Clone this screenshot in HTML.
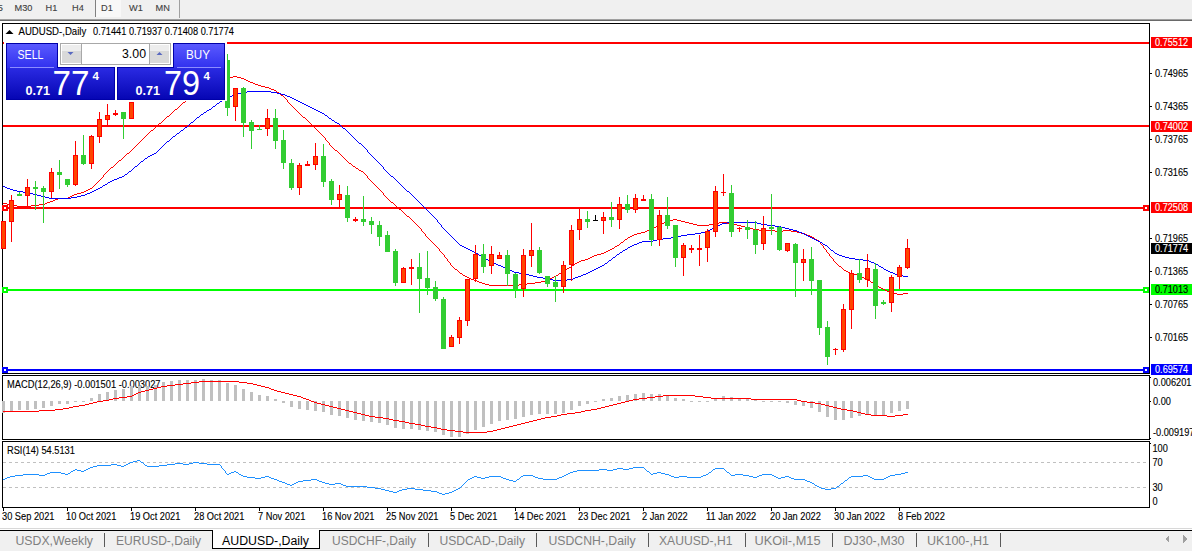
<!DOCTYPE html>
<html><head><meta charset="utf-8"><style>
html,body{margin:0;padding:0;background:#fff;width:1192px;height:551px;overflow:hidden}
svg{display:block}
</style></head><body>
<svg width="1192" height="551" viewBox="0 0 1192 551" shape-rendering="crispEdges">
<defs>
<linearGradient id="gtab" x1="0" y1="0" x2="0" y2="1"><stop offset="0" stop-color="#5a5aff"/><stop offset="1" stop-color="#3030ee"/></linearGradient>
<linearGradient id="gpr" x1="0" y1="0" x2="0" y2="1"><stop offset="0" stop-color="#2a2ae2"/><stop offset="1" stop-color="#0606b4"/></linearGradient>
</defs>
<rect x="0" y="0" width="1192" height="19" fill="#f0f0f0"/>
<rect x="0" y="19" width="1192" height="1" fill="#a0a0a0"/>
<rect x="0" y="20" width="1192" height="1" fill="#696969"/>
<rect x="96" y="0" width="25" height="17" fill="#f8f8f8"/>
<rect x="95" y="0" width="1" height="17" fill="#808080"/>
<rect x="179" y="0" width="1" height="18" fill="#a0a0a0"/>
<text x="-10" y="11" font-family="Liberation Sans, sans-serif" font-size="9.6" fill="#404040" stroke="#404040" stroke-width="0.12" textLength="12.80" lengthAdjust="spacingAndGlyphs">M5</text>
<text x="14.5" y="11" font-family="Liberation Sans, sans-serif" font-size="9.6" fill="#404040" stroke="#404040" stroke-width="0.12" textLength="17.93" lengthAdjust="spacingAndGlyphs">M30</text>
<text x="45.5" y="11" font-family="Liberation Sans, sans-serif" font-size="9.6" fill="#404040" stroke="#404040" stroke-width="0.12" textLength="11.78" lengthAdjust="spacingAndGlyphs">H1</text>
<text x="72" y="11" font-family="Liberation Sans, sans-serif" font-size="9.6" fill="#404040" stroke="#404040" stroke-width="0.12" textLength="11.78" lengthAdjust="spacingAndGlyphs">H4</text>
<text x="101" y="11" font-family="Liberation Sans, sans-serif" font-size="9.6" fill="#404040" stroke="#404040" stroke-width="0.12" textLength="11.78" lengthAdjust="spacingAndGlyphs">D1</text>
<text x="129" y="11" font-family="Liberation Sans, sans-serif" font-size="9.6" fill="#404040" stroke="#404040" stroke-width="0.12" textLength="13.82" lengthAdjust="spacingAndGlyphs">W1</text>
<text x="155.5" y="11" font-family="Liberation Sans, sans-serif" font-size="9.6" fill="#404040" stroke="#404040" stroke-width="0.12" textLength="14.33" lengthAdjust="spacingAndGlyphs">MN</text>
<rect x="2" y="23" width="1148" height="1" fill="#000"/>
<rect x="2" y="23" width="1" height="351" fill="#000"/>
<rect x="1149" y="23" width="1" height="351" fill="#000"/>
<rect x="2" y="373" width="1148" height="1" fill="#000"/>
<rect x="2" y="375" width="1148" height="1" fill="#000"/>
<rect x="2" y="375" width="1" height="65" fill="#000"/>
<rect x="1149" y="375" width="1" height="65" fill="#000"/>
<rect x="2" y="439" width="1148" height="1" fill="#000"/>
<rect x="2" y="441" width="1148" height="1" fill="#000"/>
<rect x="2" y="441" width="1" height="67" fill="#000"/>
<rect x="1149" y="441" width="1" height="67" fill="#000"/>
<rect x="2" y="507" width="1148" height="1" fill="#000"/>
<rect x="3" y="42" width="1146" height="2" fill="#ff0000"/>
<rect x="3" y="125" width="1146" height="2" fill="#ff0000"/>
<rect x="3" y="207" width="1146" height="2" fill="#ff0000"/>
<rect x="3" y="289" width="1146" height="2" fill="#00ff00"/>
<rect x="3" y="369" width="1146" height="2" fill="#0000ff"/>
<rect x="2" y="205" width="6" height="6" fill="#ff0000"/><rect x="4" y="207" width="2" height="2" fill="#fff"/>
<rect x="1143" y="205" width="6" height="6" fill="#ff0000"/><rect x="1145" y="207" width="2" height="2" fill="#fff"/>
<rect x="2" y="287" width="6" height="6" fill="#00ff00"/><rect x="4" y="289" width="2" height="2" fill="#fff"/>
<rect x="1143" y="287" width="6" height="6" fill="#00ff00"/><rect x="1145" y="289" width="2" height="2" fill="#fff"/>
<rect x="2" y="367" width="6" height="6" fill="#0000ff"/><rect x="4" y="369" width="2" height="2" fill="#fff"/>
<rect x="1143" y="367" width="6" height="6" fill="#0000ff"/><rect x="1145" y="369" width="2" height="2" fill="#fff"/>
<path d="M428 238h1v1h-1zM627 238h1v1h-1zM814 238h1v1h-1zM417 225h1v1h-1zM658 225h2v1h-2zM697 225h12v1h-12zM737 225h4v1h-4zM459 272h1v1h-1zM561 272h2v1h-2zM848 272h2v1h-2zM447 259h1v1h-1zM585 259h3v1h-3zM833 259h1v1h-1zM421 230h1v1h-1zM647 230h3v1h-3zM759 230h16v1h-16zM783 230h8v1h-8zM162 121h1v1h-1zM308 121h1v1h-1zM436 246h1v1h-1zM615 246h2v1h-2zM823 246h1v1h-1zM439 249h1v1h-1zM610 249h2v1h-2zM825 249h1v1h-1zM415 223h1v1h-1zM662 223h2v1h-2zM689 223h4v1h-4zM713 223h6v1h-6zM727 223h6v1h-6zM7 204h6v1h-6zM39 204h6v1h-6zM394 204h1v1h-1zM460 273h2v1h-2zM559 273h2v1h-2zM850 273h3v1h-3zM136 145h1v1h-1zM330 145h1v1h-1zM161 122h1v1h-1zM309 122h1v1h-1zM13 205h4v1h-4zM31 205h8v1h-8zM395 205h1v1h-1zM88 189h2v1h-2zM379 189h1v1h-1zM433 243h1v1h-1zM620 243h1v1h-1zM820 243h1v1h-1zM58 198h10v1h-10zM387 198h1v1h-1zM485 284h4v1h-4zM519 284h8v1h-8zM875 284h1v1h-1zM192 95h1v1h-1zM281 95h2v1h-2zM156 126h1v1h-1zM313 126h1v1h-1zM17 206h14v1h-14zM396 206h1v1h-1zM479 282h3v1h-3zM535 282h6v1h-6zM871 282h2v1h-2zM423 232h1v1h-1zM641 232h4v1h-4zM797 232h4v1h-4zM70 196h2v1h-2zM385 196h1v1h-1zM489 285h30v1h-30zM876 285h2v1h-2zM154 128h1v1h-1zM315 128h1v1h-1zM72 195h2v1h-2zM384 195h1v1h-1zM469 278h2v1h-2zM550 278h2v1h-2zM864 278h2v1h-2zM53 200h2v1h-2zM389 200h1v1h-1zM482 283h3v1h-3zM527 283h8v1h-8zM873 283h2v1h-2zM193 94h2v1h-2zM280 94h1v1h-1zM430 240h1v1h-1zM624 240h1v1h-1zM817 240h2v1h-2zM153 129h1v1h-1zM316 129h1v1h-1zM213 81h2v1h-2zM248 81h2v1h-2zM416 224h1v1h-1zM660 224h2v1h-2zM693 224h4v1h-4zM709 224h4v1h-4zM733 224h4v1h-4zM140 141h1v1h-1zM327 141h1v1h-1zM887 291h3v1h-3zM197 91h2v1h-2zM276 91h1v1h-1zM77 193h4v1h-4zM383 193h1v1h-1zM422 231h1v1h-1zM645 231h2v1h-2zM775 231h8v1h-8zM791 231h6v1h-6zM209 83h2v1h-2zM253 83h2v1h-2zM204 86h2v1h-2zM261 86h4v1h-4zM412 220h1v1h-1zM669 220h4v1h-4zM677 220h4v1h-4zM424 233h1v1h-1zM637 233h4v1h-4zM801 233h4v1h-4zM890 292h3v1h-3zM419 227h1v1h-1zM654 227h2v1h-2zM745 227h4v1h-4zM124 156h1v1h-1zM342 156h1v1h-1zM159 123h2v1h-2zM310 123h1v1h-1zM174 110h1v1h-1zM296 110h1v1h-1zM145 136h1v1h-1zM323 136h1v1h-1zM438 248h1v1h-1zM612 248h2v1h-2zM824 248h1v1h-1zM444 255h1v1h-1zM594 255h3v1h-3zM829 255h1v1h-1zM893 293h4v1h-4zM903 293h5v1h-5zM883 289h2v1h-2zM425 234h1v1h-1zM634 234h3v1h-3zM805 234h2v1h-2zM90 188h2v1h-2zM378 188h1v1h-1zM93 186h1v1h-1zM376 186h1v1h-1zM127 153h2v1h-2zM339 153h1v1h-1zM163 120h1v1h-1zM307 120h1v1h-1zM173 111h1v1h-1zM297 111h1v1h-1zM138 143h1v1h-1zM329 143h1v1h-1zM117 162h1v1h-1zM348 162h1v1h-1zM451 265h1v1h-1zM572 265h2v1h-2zM838 265h1v1h-1zM84 191h2v1h-2zM381 191h1v1h-1zM223 78h6v1h-6zM241 78h3v1h-3zM429 239h1v1h-1zM625 239h2v1h-2zM815 239h2v1h-2zM3 203h4v1h-4zM45 203h2v1h-2zM393 203h1v1h-1zM407 216h2v1h-2zM449 262h1v1h-1zM577 262h2v1h-2zM835 262h1v1h-1zM458 271h1v1h-1zM563 271h1v1h-1zM846 271h2v1h-2zM457 270h1v1h-1zM564 270h2v1h-2zM844 270h2v1h-2zM448 261h1v1h-1zM579 261h2v1h-2zM834 261h1v1h-1zM439 250h1v1h-1zM608 250h2v1h-2zM826 250h1v1h-1zM442 253h1v1h-1zM601 253h3v1h-3zM828 253h1v1h-1zM99 180h1v1h-1zM370 180h1v1h-1zM166 117h1v1h-1zM303 117h2v1h-2zM199 90h1v1h-1zM274 90h2v1h-2zM879 287h2v1h-2zM68 197h2v1h-2zM386 197h1v1h-1zM115 164h1v1h-1zM351 164h1v1h-1zM414 222h1v1h-1zM664 222h2v1h-2zM685 222h4v1h-4zM719 222h8v1h-8zM474 280h3v1h-3zM545 280h3v1h-3zM868 280h2v1h-2zM455 269h2v1h-2zM566 269h1v1h-1zM843 269h1v1h-1zM444 256h1v1h-1zM592 256h2v1h-2zM830 256h1v1h-1zM233 76h4v1h-4zM131 150h1v1h-1zM335 150h2v1h-2zM147 134h1v1h-1zM321 134h1v1h-1zM418 226h1v1h-1zM656 226h2v1h-2zM741 226h4v1h-4zM108 170h1v1h-1zM359 170h2v1h-2zM201 88h2v1h-2zM269 88h2v1h-2zM130 151h1v1h-1zM337 151h1v1h-1zM92 187h1v1h-1zM377 187h1v1h-1zM183 102h2v1h-2zM288 102h1v1h-1zM437 247h1v1h-1zM614 247h1v1h-1zM823 247h1v1h-1zM463 275h2v1h-2zM556 275h2v1h-2zM857 275h3v1h-3zM196 92h1v1h-1zM277 92h2v1h-2zM425 235h1v1h-1zM632 235h2v1h-2zM807 235h3v1h-3zM206 85h1v1h-1zM258 85h3v1h-3zM421 229h1v1h-1zM650 229h2v1h-2zM753 229h6v1h-6zM146 135h1v1h-1zM322 135h1v1h-1zM107 171h1v1h-1zM361 171h2v1h-2zM443 254h1v1h-1zM597 254h4v1h-4zM829 254h1v1h-1zM106 172h1v1h-1zM363 172h1v1h-1zM218 79h5v1h-5zM244 79h2v1h-2zM135 146h1v1h-1zM331 146h1v1h-1zM447 260h1v1h-1zM581 260h4v1h-4zM833 260h1v1h-1zM122 158h1v1h-1zM344 158h1v1h-1zM453 267h1v1h-1zM569 267h2v1h-2zM841 267h1v1h-1zM427 237h1v1h-1zM628 237h2v1h-2zM812 237h2v1h-2zM435 245h1v1h-1zM617 245h2v1h-2zM822 245h1v1h-1zM413 221h1v1h-1zM666 221h3v1h-3zM681 221h4v1h-4zM229 77h4v1h-4zM237 77h4v1h-4zM432 242h1v1h-1zM621 242h2v1h-2zM820 242h1v1h-1zM402 211h1v1h-1zM446 258h1v1h-1zM588 258h2v1h-2zM832 258h1v1h-1zM111 167h2v1h-2zM355 167h1v1h-1zM403 212h1v1h-1zM50 201h3v1h-3zM390 201h1v1h-1zM454 268h1v1h-1zM567 268h2v1h-2zM842 268h1v1h-1zM215 80h3v1h-3zM246 80h2v1h-2zM211 82h2v1h-2zM250 82h3v1h-3zM897 294h6v1h-6zM441 252h1v1h-1zM604 252h2v1h-2zM827 252h1v1h-1zM477 281h2v1h-2zM541 281h4v1h-4zM870 281h1v1h-1zM185 101h1v1h-1zM287 101h1v1h-1zM74 194h3v1h-3zM383 194h1v1h-1zM123 157h1v1h-1zM343 157h1v1h-1zM467 277h2v1h-2zM552 277h2v1h-2zM862 277h2v1h-2zM465 276h2v1h-2zM554 276h2v1h-2zM860 276h2v1h-2zM55 199h3v1h-3zM388 199h1v1h-1zM100 179h1v1h-1zM369 179h1v1h-1zM134 147h1v1h-1zM332 147h1v1h-1zM178 107h1v1h-1zM293 107h1v1h-1zM471 279h3v1h-3zM548 279h2v1h-2zM866 279h2v1h-2zM86 190h2v1h-2zM380 190h1v1h-1zM165 118h1v1h-1zM305 118h1v1h-1zM180 105h1v1h-1zM291 105h1v1h-1zM426 236h1v1h-1zM630 236h2v1h-2zM810 236h2v1h-2zM119 160h2v1h-2zM346 160h1v1h-1zM179 106h1v1h-1zM292 106h1v1h-1zM158 124h1v1h-1zM311 124h1v1h-1zM47 202h3v1h-3zM391 202h2v1h-2zM113 166h1v1h-1zM353 166h2v1h-2zM142 139h1v1h-1zM325 139h1v1h-1zM103 175h1v1h-1zM366 175h1v1h-1zM172 112h1v1h-1zM298 112h1v1h-1zM398 208h1v1h-1zM207 84h2v1h-2zM255 84h3v1h-3zM450 264h1v1h-1zM574 264h1v1h-1zM837 264h1v1h-1zM171 113h1v1h-1zM299 113h1v1h-1zM420 228h1v1h-1zM652 228h2v1h-2zM749 228h4v1h-4zM399 209h2v1h-2zM431 241h1v1h-1zM623 241h1v1h-1zM819 241h1v1h-1zM410 218h1v1h-1zM189 97h2v1h-2zM284 97h1v1h-1zM452 266h1v1h-1zM571 266h1v1h-1zM839 266h2v1h-2zM81 192h3v1h-3zM382 192h1v1h-1zM96 183h1v1h-1zM373 183h1v1h-1zM151 130h2v1h-2zM317 130h1v1h-1zM169 115h1v1h-1zM301 115h1v1h-1zM440 251h1v1h-1zM606 251h2v1h-2zM826 251h1v1h-1zM95 184h1v1h-1zM374 184h1v1h-1zM450 263h1v1h-1zM575 263h2v1h-2zM836 263h1v1h-1zM116 163h1v1h-1zM349 163h2v1h-2zM110 168h1v1h-1zM356 168h2v1h-2zM144 137h1v1h-1zM324 137h1v1h-1zM105 173h1v1h-1zM364 173h1v1h-1zM397 207h1v1h-1zM191 96h1v1h-1zM283 96h1v1h-1zM200 89h1v1h-1zM271 89h3v1h-3zM885 290h2v1h-2zM203 87h1v1h-1zM265 87h4v1h-4zM114 165h1v1h-1zM352 165h1v1h-1zM149 132h1v1h-1zM319 132h1v1h-1zM104 174h1v1h-1zM365 174h1v1h-1zM409 217h1v1h-1zM445 257h1v1h-1zM590 257h2v1h-2zM831 257h1v1h-1zM98 181h1v1h-1zM371 181h1v1h-1zM878 286h1v1h-1zM175 109h2v1h-2zM295 109h1v1h-1zM97 182h1v1h-1zM372 182h1v1h-1zM881 288h2v1h-2zM411 219h1v1h-1zM673 219h4v1h-4zM102 177h1v1h-1zM367 177h1v1h-1zM137 144h1v1h-1zM329 144h1v1h-1zM129 152h1v1h-1zM338 152h1v1h-1zM195 93h1v1h-1zM279 93h1v1h-1zM121 159h1v1h-1zM345 159h1v1h-1zM462 274h1v1h-1zM558 274h1v1h-1zM853 274h4v1h-4zM187 99h1v1h-1zM286 99h1v1h-1zM404 213h1v1h-1zM405 214h1v1h-1zM177 108h1v1h-1zM294 108h1v1h-1zM132 149h1v1h-1zM334 149h1v1h-1zM133 148h1v1h-1zM333 148h1v1h-1zM157 125h1v1h-1zM312 125h1v1h-1zM164 119h1v1h-1zM306 119h1v1h-1zM125 155h1v1h-1zM341 155h1v1h-1zM167 116h2v1h-2zM302 116h1v1h-1zM141 140h1v1h-1zM326 140h1v1h-1zM434 244h1v1h-1zM619 244h1v1h-1zM821 244h1v1h-1zM139 142h1v1h-1zM328 142h1v1h-1zM188 98h1v1h-1zM285 98h1v1h-1zM170 114h1v1h-1zM300 114h1v1h-1zM148 133h1v1h-1zM320 133h1v1h-1zM126 154h1v1h-1zM340 154h1v1h-1zM109 169h1v1h-1zM358 169h1v1h-1zM182 103h1v1h-1zM289 103h1v1h-1zM150 131h1v1h-1zM318 131h1v1h-1zM155 127h1v1h-1zM314 127h1v1h-1zM143 138h1v1h-1zM325 138h1v1h-1zM186 100h1v1h-1zM287 100h1v1h-1zM406 215h1v1h-1zM118 161h1v1h-1zM347 161h1v1h-1zM94 185h1v1h-1zM375 185h1v1h-1zM103 176h1v1h-1zM367 176h1v1h-1zM101 178h1v1h-1zM368 178h1v1h-1zM181 104h1v1h-1zM290 104h1v1h-1zM401 210h1v1h-1z" fill="#ff0000"/>
<path d="M124 175h1v1h-1zM390 175h1v1h-1zM438 222h1v1h-1zM727 222h30v1h-30zM519 273h6v1h-6zM586 273h2v1h-2zM893 273h2v1h-2zM484 258h2v1h-2zM612 258h1v1h-1zM849 258h6v1h-6zM453 238h1v1h-1zM663 238h8v1h-8zM812 238h2v1h-2zM199 116h1v1h-1zM327 116h1v1h-1zM139 163h1v1h-1zM379 163h1v1h-1zM445 230h1v1h-1zM708 230h2v1h-2zM793 230h4v1h-4zM10 189h3v1h-3zM96 189h2v1h-2zM405 189h1v1h-1zM506 268h2v1h-2zM596 268h2v1h-2zM883 268h1v1h-1zM439 223h1v1h-1zM722 223h5v1h-5zM757 223h4v1h-4zM241 92h6v1h-6zM271 92h6v1h-6zM128 172h1v1h-1zM387 172h1v1h-1zM470 250h2v1h-2zM623 250h2v1h-2zM831 250h2v1h-2zM441 226h1v1h-1zM716 226h2v1h-2zM775 226h6v1h-6zM479 255h2v1h-2zM616 255h1v1h-1zM839 255h3v1h-3zM197 117h2v1h-2zM328 117h1v1h-1zM119 177h3v1h-3zM393 177h1v1h-1zM553 280h14v1h-14zM150 155h2v1h-2zM371 155h1v1h-1zM533 276h4v1h-4zM578 276h3v1h-3zM903 276h5v1h-5zM447 232h1v1h-1zM701 232h4v1h-4zM799 232h3v1h-3zM492 262h2v1h-2zM607 262h1v1h-1zM871 262h3v1h-3zM132 169h1v1h-1zM384 169h1v1h-1zM474 252h2v1h-2zM620 252h2v1h-2zM834 252h1v1h-1zM49 198h22v1h-22zM415 198h1v1h-1zM172 137h1v1h-1zM353 137h1v1h-1zM457 242h1v1h-1zM639 242h3v1h-3zM820 242h2v1h-2zM247 91h24v1h-24zM185 127h2v1h-2zM342 127h1v1h-1zM456 241h1v1h-1zM642 241h11v1h-11zM818 241h2v1h-2zM224 99h2v1h-2zM294 99h2v1h-2zM5 187h2v1h-2zM100 187h2v1h-2zM403 187h1v1h-1zM454 239h1v1h-1zM657 239h6v1h-6zM814 239h2v1h-2zM167 141h2v1h-2zM357 141h1v1h-1zM514 272h5v1h-5zM588 272h2v1h-2zM890 272h3v1h-3zM529 275h4v1h-4zM581 275h2v1h-2zM898 275h5v1h-5zM430 213h1v1h-1zM232 95h2v1h-2zM285 95h2v1h-2zM105 184h2v1h-2zM400 184h1v1h-1zM441 225h1v1h-1zM718 225h2v1h-2zM767 225h8v1h-8zM496 264h2v1h-2zM604 264h1v1h-1zM876 264h2v1h-2zM17 191h6v1h-6zM92 191h2v1h-2zM407 191h2v1h-2zM171 138h1v1h-1zM354 138h1v1h-1zM455 240h1v1h-1zM653 240h4v1h-4zM816 240h2v1h-2zM237 93h4v1h-4zM277 93h4v1h-4zM451 236h1v1h-1zM677 236h4v1h-4zM808 236h2v1h-2zM476 253h2v1h-2zM619 253h1v1h-1zM835 253h2v1h-2zM228 97h2v1h-2zM290 97h2v1h-2zM486 259h2v1h-2zM611 259h1v1h-1zM855 259h8v1h-8zM464 247h2v1h-2zM628 247h2v1h-2zM828 247h1v1h-1zM29 193h4v1h-4zM87 193h3v1h-3zM410 193h1v1h-1zM200 115h1v1h-1zM325 115h2v1h-2zM452 237h1v1h-1zM671 237h6v1h-6zM810 237h2v1h-2zM448 233h1v1h-1zM695 233h6v1h-6zM802 233h2v1h-2zM23 192h6v1h-6zM90 192h2v1h-2zM409 192h1v1h-1zM7 188h3v1h-3zM98 188h2v1h-2zM404 188h1v1h-1zM537 277h6v1h-6zM575 277h3v1h-3zM154 153h2v1h-2zM369 153h1v1h-1zM143 160h1v1h-1zM376 160h1v1h-1zM117 178h2v1h-2zM394 178h1v1h-1zM466 248h2v1h-2zM627 248h1v1h-1zM829 248h1v1h-1zM510 270h2v1h-2zM592 270h2v1h-2zM886 270h2v1h-2zM459 244h1v1h-1zM634 244h3v1h-3zM823 244h2v1h-2zM440 224h1v1h-1zM720 224h2v1h-2zM761 224h6v1h-6zM449 234h1v1h-1zM687 234h8v1h-8zM804 234h2v1h-2zM114 179h3v1h-3zM395 179h1v1h-1zM147 157h1v1h-1zM373 157h1v1h-1zM206 111h1v1h-1zM318 111h2v1h-2zM135 166h2v1h-2zM382 166h1v1h-1zM460 245h2v1h-2zM632 245h2v1h-2zM825 245h2v1h-2zM450 235h1v1h-1zM681 235h6v1h-6zM806 235h2v1h-2zM187 126h1v1h-1zM341 126h1v1h-1zM446 231h1v1h-1zM705 231h3v1h-3zM797 231h2v1h-2zM13 190h4v1h-4zM94 190h2v1h-2zM406 190h1v1h-1zM37 195h4v1h-4zM81 195h4v1h-4zM412 195h1v1h-1zM220 101h2v1h-2zM298 101h2v1h-2zM462 246h2v1h-2zM630 246h2v1h-2zM827 246h1v1h-1zM234 94h3v1h-3zM281 94h4v1h-4zM203 113h1v1h-1zM322 113h2v1h-2zM481 256h2v1h-2zM615 256h1v1h-1zM842 256h3v1h-3zM209 109h2v1h-2zM314 109h2v1h-2zM215 105h1v1h-1zM306 105h2v1h-2zM165 143h1v1h-1zM359 143h2v1h-2zM498 265h3v1h-3zM602 265h2v1h-2zM878 265h1v1h-1zM204 112h2v1h-2zM320 112h2v1h-2zM190 123h1v1h-1zM337 123h2v1h-2zM207 110h2v1h-2zM316 110h2v1h-2zM437 220h1v1h-1zM213 106h2v1h-2zM308 106h2v1h-2zM219 102h1v1h-1zM300 102h2v1h-2zM419 202h1v1h-1zM483 257h1v1h-1zM613 257h2v1h-2zM845 257h4v1h-4zM33 194h4v1h-4zM85 194h2v1h-2zM411 194h1v1h-1zM162 146h1v1h-1zM363 146h1v1h-1zM212 107h1v1h-1zM310 107h2v1h-2zM217 103h2v1h-2zM302 103h2v1h-2zM41 196h4v1h-4zM77 196h4v1h-4zM413 196h1v1h-1zM216 104h1v1h-1zM304 104h2v1h-2zM222 100h2v1h-2zM296 100h2v1h-2zM157 151h1v1h-1zM367 151h1v1h-1zM230 96h2v1h-2zM287 96h3v1h-3zM468 249h2v1h-2zM625 249h2v1h-2zM830 249h1v1h-1zM129 171h2v1h-2zM386 171h1v1h-1zM478 254h1v1h-1zM617 254h2v1h-2zM837 254h2v1h-2zM152 154h2v1h-2zM370 154h1v1h-1zM443 228h1v1h-1zM712 228h2v1h-2zM785 228h4v1h-4zM442 227h1v1h-1zM714 227h2v1h-2zM781 227h4v1h-4zM472 251h2v1h-2zM622 251h1v1h-1zM833 251h1v1h-1zM226 98h2v1h-2zM292 98h2v1h-2zM543 278h6v1h-6zM573 278h2v1h-2zM525 274h4v1h-4zM583 274h3v1h-3zM895 274h3v1h-3zM145 158h2v1h-2zM374 158h1v1h-1zM503 267h3v1h-3zM598 267h2v1h-2zM881 267h2v1h-2zM201 114h2v1h-2zM324 114h1v1h-1zM122 176h2v1h-2zM391 176h2v1h-2zM444 229h1v1h-1zM710 229h2v1h-2zM789 229h4v1h-4zM103 185h2v1h-2zM401 185h1v1h-1zM184 128h1v1h-1zM343 128h2v1h-2zM179 132h1v1h-1zM348 132h1v1h-1zM137 165h1v1h-1zM381 165h1v1h-1zM173 136h2v1h-2zM352 136h1v1h-1zM177 133h2v1h-2zM349 133h1v1h-1zM512 271h2v1h-2zM590 271h2v1h-2zM888 271h2v1h-2zM127 173h1v1h-1zM388 173h1v1h-1zM549 279h4v1h-4zM567 279h6v1h-6zM488 260h2v1h-2zM609 260h2v1h-2zM863 260h6v1h-6zM508 269h2v1h-2zM594 269h2v1h-2zM884 269h2v1h-2zM148 156h2v1h-2zM372 156h1v1h-1zM418 201h1v1h-1zM125 174h2v1h-2zM389 174h1v1h-1zM194 120h1v1h-1zM332 120h2v1h-2zM501 266h2v1h-2zM600 266h2v1h-2zM879 266h2v1h-2zM433 216h1v1h-1zM134 167h1v1h-1zM383 167h1v1h-1zM188 125h1v1h-1zM340 125h1v1h-1zM425 208h1v1h-1zM211 108h1v1h-1zM312 108h2v1h-2zM159 149h1v1h-1zM366 149h1v1h-1zM191 122h2v1h-2zM335 122h2v1h-2zM196 118h1v1h-1zM329 118h2v1h-2zM458 243h1v1h-1zM637 243h2v1h-2zM822 243h1v1h-1zM45 197h4v1h-4zM71 197h6v1h-6zM414 197h1v1h-1zM181 130h2v1h-2zM346 130h1v1h-1zM141 161h2v1h-2zM377 161h1v1h-1zM432 215h1v1h-1zM170 139h1v1h-1zM355 139h1v1h-1zM164 144h1v1h-1zM361 144h1v1h-1zM180 131h1v1h-1zM347 131h1v1h-1zM138 164h1v1h-1zM380 164h1v1h-1zM161 147h1v1h-1zM364 147h1v1h-1zM3 186h2v1h-2zM102 186h1v1h-1zM402 186h1v1h-1zM494 263h2v1h-2zM605 263h2v1h-2zM874 263h2v1h-2zM175 135h1v1h-1zM351 135h1v1h-1zM110 181h2v1h-2zM397 181h1v1h-1zM133 168h1v1h-1zM383 168h1v1h-1zM156 152h1v1h-1zM368 152h1v1h-1zM183 129h1v1h-1zM345 129h1v1h-1zM420 203h1v1h-1zM427 210h1v1h-1zM176 134h1v1h-1zM350 134h1v1h-1zM189 124h1v1h-1zM339 124h1v1h-1zM140 162h1v1h-1zM378 162h1v1h-1zM144 159h1v1h-1zM375 159h1v1h-1zM490 261h2v1h-2zM608 261h1v1h-1zM869 261h2v1h-2zM426 209h1v1h-1zM166 142h1v1h-1zM358 142h1v1h-1zM112 180h2v1h-2zM396 180h1v1h-1zM158 150h1v1h-1zM367 150h1v1h-1zM169 140h1v1h-1zM356 140h1v1h-1zM108 182h2v1h-2zM398 182h1v1h-1zM163 145h1v1h-1zM362 145h1v1h-1zM193 121h1v1h-1zM334 121h1v1h-1zM131 170h1v1h-1zM385 170h1v1h-1zM434 217h1v1h-1zM437 221h1v1h-1zM421 204h1v1h-1zM422 205h1v1h-1zM428 211h1v1h-1zM429 212h1v1h-1zM435 218h1v1h-1zM436 219h1v1h-1zM107 183h1v1h-1zM399 183h1v1h-1zM160 148h1v1h-1zM365 148h1v1h-1zM195 119h1v1h-1zM331 119h1v1h-1zM416 199h1v1h-1zM417 200h1v1h-1zM423 206h1v1h-1zM424 207h1v1h-1zM431 214h1v1h-1z" fill="#0000ff"/>
<rect x="3" y="221" width="1" height="28" fill="#ff0000"/>
<rect x="1" y="221" width="5" height="28" fill="#ff0000"/>
<rect x="2" y="222" width="3" height="26" fill="#ff4500"/>
<rect x="11" y="195" width="1" height="47" fill="#ff0000"/>
<rect x="9" y="200" width="5" height="22" fill="#ff0000"/>
<rect x="10" y="201" width="3" height="20" fill="#ff4500"/>
<rect x="19" y="192" width="1" height="4" fill="#32cd32"/>
<rect x="17" y="194" width="5" height="2" fill="#32cd32"/>
<rect x="27" y="179" width="1" height="28" fill="#ff0000"/>
<rect x="25" y="187" width="5" height="9" fill="#ff0000"/>
<rect x="26" y="188" width="3" height="7" fill="#ff4500"/>
<rect x="35" y="181" width="1" height="29" fill="#32cd32"/>
<rect x="33" y="187" width="5" height="2" fill="#32cd32"/>
<rect x="43" y="186" width="1" height="37" fill="#32cd32"/>
<rect x="41" y="188" width="5" height="4" fill="#32cd32"/>
<rect x="51" y="168" width="1" height="30" fill="#ff0000"/>
<rect x="49" y="172" width="5" height="20" fill="#ff0000"/>
<rect x="50" y="173" width="3" height="18" fill="#ff4500"/>
<rect x="59" y="160" width="1" height="29" fill="#32cd32"/>
<rect x="57" y="172" width="5" height="3" fill="#32cd32"/>
<rect x="67" y="179" width="1" height="8" fill="#32cd32"/>
<rect x="65" y="179" width="5" height="6" fill="#32cd32"/>
<rect x="75" y="141" width="1" height="45" fill="#ff0000"/>
<rect x="73" y="155" width="5" height="30" fill="#ff0000"/>
<rect x="74" y="156" width="3" height="28" fill="#ff4500"/>
<rect x="83" y="135" width="1" height="30" fill="#32cd32"/>
<rect x="81" y="155" width="5" height="9" fill="#32cd32"/>
<rect x="91" y="135" width="1" height="34" fill="#ff0000"/>
<rect x="89" y="136" width="5" height="28" fill="#ff0000"/>
<rect x="90" y="137" width="3" height="26" fill="#ff4500"/>
<rect x="99" y="112" width="1" height="31" fill="#ff0000"/>
<rect x="97" y="119" width="5" height="18" fill="#ff0000"/>
<rect x="98" y="120" width="3" height="16" fill="#ff4500"/>
<rect x="107" y="104" width="1" height="21" fill="#ff0000"/>
<rect x="105" y="115" width="5" height="5" fill="#ff0000"/>
<rect x="106" y="116" width="3" height="3" fill="#ff4500"/>
<rect x="115" y="110" width="1" height="6" fill="#ff0000"/>
<rect x="113" y="113" width="5" height="2" fill="#ff0000"/>
<rect x="123" y="112" width="1" height="27" fill="#32cd32"/>
<rect x="121" y="112" width="5" height="7" fill="#32cd32"/>
<rect x="131" y="102" width="1" height="17" fill="#ff0000"/>
<rect x="129" y="102" width="5" height="17" fill="#ff0000"/>
<rect x="130" y="103" width="3" height="15" fill="#ff4500"/>
<rect x="227" y="54" width="1" height="62" fill="#32cd32"/>
<rect x="225" y="60" width="5" height="48" fill="#32cd32"/>
<rect x="235" y="88" width="1" height="33" fill="#ff0000"/>
<rect x="233" y="88" width="5" height="19" fill="#ff0000"/>
<rect x="234" y="89" width="3" height="17" fill="#ff4500"/>
<rect x="243" y="87" width="1" height="50" fill="#32cd32"/>
<rect x="241" y="88" width="5" height="35" fill="#32cd32"/>
<rect x="251" y="120" width="1" height="29" fill="#32cd32"/>
<rect x="249" y="122" width="5" height="9" fill="#32cd32"/>
<rect x="259" y="125" width="1" height="5" fill="#32cd32"/>
<rect x="257" y="129" width="5" height="1" fill="#32cd32"/>
<rect x="267" y="109" width="1" height="27" fill="#ff0000"/>
<rect x="265" y="118" width="5" height="11" fill="#ff0000"/>
<rect x="266" y="119" width="3" height="9" fill="#ff4500"/>
<rect x="275" y="109" width="1" height="40" fill="#32cd32"/>
<rect x="273" y="118" width="5" height="23" fill="#32cd32"/>
<rect x="283" y="130" width="1" height="39" fill="#32cd32"/>
<rect x="281" y="140" width="5" height="23" fill="#32cd32"/>
<rect x="291" y="159" width="1" height="31" fill="#32cd32"/>
<rect x="289" y="163" width="5" height="25" fill="#32cd32"/>
<rect x="299" y="163" width="1" height="32" fill="#ff0000"/>
<rect x="297" y="165" width="5" height="23" fill="#ff0000"/>
<rect x="298" y="166" width="3" height="21" fill="#ff4500"/>
<rect x="307" y="161" width="1" height="5" fill="#ff0000"/>
<rect x="305" y="164" width="5" height="2" fill="#ff0000"/>
<rect x="315" y="143" width="1" height="27" fill="#ff0000"/>
<rect x="313" y="156" width="5" height="9" fill="#ff0000"/>
<rect x="314" y="157" width="3" height="7" fill="#ff4500"/>
<rect x="323" y="144" width="1" height="43" fill="#32cd32"/>
<rect x="321" y="156" width="5" height="26" fill="#32cd32"/>
<rect x="331" y="179" width="1" height="26" fill="#32cd32"/>
<rect x="329" y="181" width="5" height="19" fill="#32cd32"/>
<rect x="339" y="185" width="1" height="24" fill="#ff0000"/>
<rect x="337" y="194" width="5" height="6" fill="#ff0000"/>
<rect x="338" y="195" width="3" height="4" fill="#ff4500"/>
<rect x="347" y="186" width="1" height="36" fill="#32cd32"/>
<rect x="345" y="195" width="5" height="23" fill="#32cd32"/>
<rect x="355" y="217" width="1" height="5" fill="#ff0000"/>
<rect x="353" y="219" width="5" height="2" fill="#ff0000"/>
<rect x="363" y="196" width="1" height="30" fill="#32cd32"/>
<rect x="361" y="219" width="5" height="3" fill="#32cd32"/>
<rect x="371" y="217" width="1" height="17" fill="#32cd32"/>
<rect x="369" y="221" width="5" height="4" fill="#32cd32"/>
<rect x="379" y="221" width="1" height="25" fill="#32cd32"/>
<rect x="377" y="225" width="5" height="12" fill="#32cd32"/>
<rect x="387" y="231" width="1" height="21" fill="#32cd32"/>
<rect x="385" y="235" width="5" height="17" fill="#32cd32"/>
<rect x="395" y="249" width="1" height="37" fill="#32cd32"/>
<rect x="393" y="251" width="5" height="32" fill="#32cd32"/>
<rect x="403" y="267" width="1" height="16" fill="#ff0000"/>
<rect x="401" y="268" width="5" height="15" fill="#ff0000"/>
<rect x="402" y="269" width="3" height="13" fill="#ff4500"/>
<rect x="411" y="259" width="1" height="26" fill="#ff0000"/>
<rect x="409" y="267" width="5" height="2" fill="#ff0000"/>
<rect x="419" y="253" width="1" height="60" fill="#32cd32"/>
<rect x="417" y="267" width="5" height="12" fill="#32cd32"/>
<rect x="427" y="251" width="1" height="44" fill="#32cd32"/>
<rect x="425" y="278" width="5" height="10" fill="#32cd32"/>
<rect x="435" y="281" width="1" height="20" fill="#32cd32"/>
<rect x="433" y="287" width="5" height="12" fill="#32cd32"/>
<rect x="443" y="297" width="1" height="52" fill="#32cd32"/>
<rect x="441" y="299" width="5" height="50" fill="#32cd32"/>
<rect x="451" y="335" width="1" height="12" fill="#ff0000"/>
<rect x="449" y="337" width="5" height="10" fill="#ff0000"/>
<rect x="450" y="338" width="3" height="8" fill="#ff4500"/>
<rect x="459" y="317" width="1" height="27" fill="#ff0000"/>
<rect x="457" y="320" width="5" height="18" fill="#ff0000"/>
<rect x="458" y="321" width="3" height="16" fill="#ff4500"/>
<rect x="467" y="279" width="1" height="47" fill="#ff0000"/>
<rect x="465" y="279" width="5" height="42" fill="#ff0000"/>
<rect x="466" y="280" width="3" height="40" fill="#ff4500"/>
<rect x="475" y="245" width="1" height="37" fill="#ff0000"/>
<rect x="473" y="254" width="5" height="25" fill="#ff0000"/>
<rect x="474" y="255" width="3" height="23" fill="#ff4500"/>
<rect x="483" y="244" width="1" height="29" fill="#32cd32"/>
<rect x="481" y="254" width="5" height="13" fill="#32cd32"/>
<rect x="491" y="246" width="1" height="28" fill="#ff0000"/>
<rect x="489" y="254" width="5" height="12" fill="#ff0000"/>
<rect x="490" y="255" width="3" height="10" fill="#ff4500"/>
<rect x="499" y="252" width="1" height="7" fill="#ff0000"/>
<rect x="497" y="255" width="5" height="4" fill="#ff0000"/>
<rect x="498" y="256" width="3" height="2" fill="#ff4500"/>
<rect x="507" y="250" width="1" height="36" fill="#32cd32"/>
<rect x="505" y="255" width="5" height="19" fill="#32cd32"/>
<rect x="515" y="273" width="1" height="25" fill="#32cd32"/>
<rect x="513" y="274" width="5" height="15" fill="#32cd32"/>
<rect x="523" y="249" width="1" height="48" fill="#ff0000"/>
<rect x="521" y="255" width="5" height="34" fill="#ff0000"/>
<rect x="522" y="256" width="3" height="32" fill="#ff4500"/>
<rect x="531" y="223" width="1" height="44" fill="#ff0000"/>
<rect x="529" y="250" width="5" height="6" fill="#ff0000"/>
<rect x="530" y="251" width="3" height="4" fill="#ff4500"/>
<rect x="539" y="247" width="1" height="27" fill="#32cd32"/>
<rect x="537" y="250" width="5" height="23" fill="#32cd32"/>
<rect x="547" y="276" width="1" height="11" fill="#32cd32"/>
<rect x="545" y="276" width="5" height="8" fill="#32cd32"/>
<rect x="555" y="276" width="1" height="26" fill="#32cd32"/>
<rect x="553" y="282" width="5" height="5" fill="#32cd32"/>
<rect x="563" y="261" width="1" height="32" fill="#ff0000"/>
<rect x="561" y="265" width="5" height="22" fill="#ff0000"/>
<rect x="562" y="266" width="3" height="20" fill="#ff4500"/>
<rect x="571" y="225" width="1" height="56" fill="#ff0000"/>
<rect x="569" y="230" width="5" height="35" fill="#ff0000"/>
<rect x="570" y="231" width="3" height="33" fill="#ff4500"/>
<rect x="579" y="209" width="1" height="31" fill="#ff0000"/>
<rect x="577" y="219" width="5" height="11" fill="#ff0000"/>
<rect x="578" y="220" width="3" height="9" fill="#ff4500"/>
<rect x="587" y="211" width="1" height="17" fill="#32cd32"/>
<rect x="585" y="219" width="5" height="3" fill="#32cd32"/>
<rect x="595" y="215" width="1" height="6" fill="#000"/>
<rect x="593" y="220" width="5" height="1" fill="#000"/>
<rect x="603" y="212" width="1" height="22" fill="#ff0000"/>
<rect x="601" y="217" width="5" height="4" fill="#ff0000"/>
<rect x="602" y="218" width="3" height="2" fill="#ff4500"/>
<rect x="611" y="202" width="1" height="25" fill="#32cd32"/>
<rect x="609" y="217" width="5" height="3" fill="#32cd32"/>
<rect x="619" y="197" width="1" height="32" fill="#ff0000"/>
<rect x="617" y="204" width="5" height="16" fill="#ff0000"/>
<rect x="618" y="205" width="3" height="14" fill="#ff4500"/>
<rect x="627" y="195" width="1" height="18" fill="#32cd32"/>
<rect x="625" y="204" width="5" height="6" fill="#32cd32"/>
<rect x="635" y="194" width="1" height="19" fill="#ff0000"/>
<rect x="633" y="198" width="5" height="12" fill="#ff0000"/>
<rect x="634" y="199" width="3" height="10" fill="#ff4500"/>
<rect x="643" y="195" width="1" height="6" fill="#ff0000"/>
<rect x="641" y="199" width="5" height="2" fill="#ff0000"/>
<rect x="651" y="194" width="1" height="52" fill="#32cd32"/>
<rect x="649" y="199" width="5" height="41" fill="#32cd32"/>
<rect x="659" y="210" width="1" height="36" fill="#ff0000"/>
<rect x="657" y="215" width="5" height="25" fill="#ff0000"/>
<rect x="658" y="216" width="3" height="23" fill="#ff4500"/>
<rect x="667" y="197" width="1" height="32" fill="#32cd32"/>
<rect x="665" y="215" width="5" height="11" fill="#32cd32"/>
<rect x="675" y="225" width="1" height="42" fill="#32cd32"/>
<rect x="673" y="225" width="5" height="33" fill="#32cd32"/>
<rect x="683" y="243" width="1" height="33" fill="#ff0000"/>
<rect x="681" y="245" width="5" height="13" fill="#ff0000"/>
<rect x="682" y="246" width="3" height="11" fill="#ff4500"/>
<rect x="691" y="245" width="1" height="8" fill="#ff0000"/>
<rect x="689" y="248" width="5" height="2" fill="#ff0000"/>
<rect x="699" y="235" width="1" height="31" fill="#ff0000"/>
<rect x="697" y="248" width="5" height="2" fill="#ff0000"/>
<rect x="707" y="229" width="1" height="33" fill="#ff0000"/>
<rect x="705" y="231" width="5" height="17" fill="#ff0000"/>
<rect x="706" y="232" width="3" height="15" fill="#ff4500"/>
<rect x="715" y="186" width="1" height="51" fill="#ff0000"/>
<rect x="713" y="191" width="5" height="41" fill="#ff0000"/>
<rect x="714" y="192" width="3" height="39" fill="#ff4500"/>
<rect x="723" y="174" width="1" height="22" fill="#ff0000"/>
<rect x="721" y="192" width="5" height="1" fill="#ff0000"/>
<rect x="731" y="185" width="1" height="52" fill="#32cd32"/>
<rect x="729" y="193" width="5" height="39" fill="#32cd32"/>
<rect x="739" y="227" width="1" height="5" fill="#ff0000"/>
<rect x="737" y="228" width="5" height="1" fill="#ff0000"/>
<rect x="747" y="220" width="1" height="19" fill="#32cd32"/>
<rect x="745" y="227" width="5" height="3" fill="#32cd32"/>
<rect x="755" y="221" width="1" height="33" fill="#32cd32"/>
<rect x="753" y="230" width="5" height="15" fill="#32cd32"/>
<rect x="763" y="216" width="1" height="34" fill="#ff0000"/>
<rect x="761" y="228" width="5" height="16" fill="#ff0000"/>
<rect x="762" y="229" width="3" height="14" fill="#ff4500"/>
<rect x="771" y="194" width="1" height="41" fill="#32cd32"/>
<rect x="769" y="227" width="5" height="2" fill="#32cd32"/>
<rect x="779" y="226" width="1" height="25" fill="#32cd32"/>
<rect x="777" y="227" width="5" height="23" fill="#32cd32"/>
<rect x="787" y="243" width="1" height="9" fill="#ff0000"/>
<rect x="785" y="243" width="5" height="8" fill="#ff0000"/>
<rect x="786" y="244" width="3" height="6" fill="#ff4500"/>
<rect x="795" y="243" width="1" height="54" fill="#32cd32"/>
<rect x="793" y="244" width="5" height="19" fill="#32cd32"/>
<rect x="803" y="249" width="1" height="32" fill="#ff0000"/>
<rect x="801" y="259" width="5" height="4" fill="#ff0000"/>
<rect x="802" y="260" width="3" height="2" fill="#ff4500"/>
<rect x="811" y="247" width="1" height="48" fill="#32cd32"/>
<rect x="809" y="259" width="5" height="22" fill="#32cd32"/>
<rect x="819" y="280" width="1" height="55" fill="#32cd32"/>
<rect x="817" y="280" width="5" height="48" fill="#32cd32"/>
<rect x="827" y="321" width="1" height="44" fill="#32cd32"/>
<rect x="825" y="327" width="5" height="30" fill="#32cd32"/>
<rect x="835" y="348" width="1" height="7" fill="#ff0000"/>
<rect x="833" y="349" width="5" height="1" fill="#ff0000"/>
<rect x="843" y="304" width="1" height="48" fill="#ff0000"/>
<rect x="841" y="309" width="5" height="41" fill="#ff0000"/>
<rect x="842" y="310" width="3" height="39" fill="#ff4500"/>
<rect x="851" y="270" width="1" height="59" fill="#ff0000"/>
<rect x="849" y="273" width="5" height="37" fill="#ff0000"/>
<rect x="850" y="274" width="3" height="35" fill="#ff4500"/>
<rect x="859" y="259" width="1" height="24" fill="#32cd32"/>
<rect x="857" y="273" width="5" height="7" fill="#32cd32"/>
<rect x="867" y="254" width="1" height="33" fill="#ff0000"/>
<rect x="865" y="268" width="5" height="12" fill="#ff0000"/>
<rect x="866" y="269" width="3" height="10" fill="#ff4500"/>
<rect x="875" y="263" width="1" height="56" fill="#32cd32"/>
<rect x="873" y="269" width="5" height="37" fill="#32cd32"/>
<rect x="883" y="300" width="1" height="5" fill="#32cd32"/>
<rect x="881" y="302" width="5" height="2" fill="#32cd32"/>
<rect x="891" y="275" width="1" height="37" fill="#ff0000"/>
<rect x="889" y="277" width="5" height="26" fill="#ff0000"/>
<rect x="890" y="278" width="3" height="24" fill="#ff4500"/>
<rect x="899" y="265" width="1" height="24" fill="#ff0000"/>
<rect x="897" y="267" width="5" height="10" fill="#ff0000"/>
<rect x="898" y="268" width="3" height="8" fill="#ff4500"/>
<rect x="907" y="239" width="1" height="30" fill="#ff0000"/>
<rect x="905" y="248" width="5" height="20" fill="#ff0000"/>
<rect x="906" y="249" width="3" height="18" fill="#ff4500"/>
<path d="M5.5 34 L9.5 30 L13.5 34 Z" fill="#000" shape-rendering="auto"/>
<text x="18.5" y="35" font-family="Liberation Sans, sans-serif" font-size="10" fill="#000" stroke="#000" stroke-width="0.12" textLength="67.74" lengthAdjust="spacingAndGlyphs">AUDUSD-,Daily</text>
<text x="93" y="35" font-family="Liberation Sans, sans-serif" font-size="10" fill="#000" stroke="#000" stroke-width="0.12" textLength="140.98" lengthAdjust="spacingAndGlyphs">0.71441 0.71937 0.71408 0.71774</text>
<rect x="1150" y="73" width="2" height="1" fill="#000"/>
<text x="1155" y="77" font-family="Liberation Sans, sans-serif" font-size="10" fill="#000" stroke="#000" stroke-width="0.12" textLength="33.07" lengthAdjust="spacingAndGlyphs">0.74965</text>
<rect x="1150" y="106" width="2" height="1" fill="#000"/>
<text x="1155" y="110" font-family="Liberation Sans, sans-serif" font-size="10" fill="#000" stroke="#000" stroke-width="0.12" textLength="33.07" lengthAdjust="spacingAndGlyphs">0.74365</text>
<rect x="1150" y="139" width="2" height="1" fill="#000"/>
<text x="1155" y="143" font-family="Liberation Sans, sans-serif" font-size="10" fill="#000" stroke="#000" stroke-width="0.12" textLength="33.07" lengthAdjust="spacingAndGlyphs">0.73765</text>
<rect x="1150" y="172" width="2" height="1" fill="#000"/>
<text x="1155" y="176" font-family="Liberation Sans, sans-serif" font-size="10" fill="#000" stroke="#000" stroke-width="0.12" textLength="33.07" lengthAdjust="spacingAndGlyphs">0.73165</text>
<rect x="1150" y="238" width="2" height="1" fill="#000"/>
<text x="1155" y="242" font-family="Liberation Sans, sans-serif" font-size="10" fill="#000" stroke="#000" stroke-width="0.12" textLength="33.07" lengthAdjust="spacingAndGlyphs">0.71965</text>
<rect x="1150" y="271" width="2" height="1" fill="#000"/>
<text x="1155" y="275" font-family="Liberation Sans, sans-serif" font-size="10" fill="#000" stroke="#000" stroke-width="0.12" textLength="33.07" lengthAdjust="spacingAndGlyphs">0.71365</text>
<rect x="1150" y="304" width="2" height="1" fill="#000"/>
<text x="1155" y="308" font-family="Liberation Sans, sans-serif" font-size="10" fill="#000" stroke="#000" stroke-width="0.12" textLength="33.07" lengthAdjust="spacingAndGlyphs">0.70765</text>
<rect x="1150" y="337" width="2" height="1" fill="#000"/>
<text x="1155" y="341" font-family="Liberation Sans, sans-serif" font-size="10" fill="#000" stroke="#000" stroke-width="0.12" textLength="33.07" lengthAdjust="spacingAndGlyphs">0.70165</text>
<rect x="1151" y="37" width="41" height="11" fill="#ff0000"/>
<text x="1155" y="46" font-family="Liberation Sans, sans-serif" font-size="10" fill="#fff" stroke="#fff" stroke-width="0.12" textLength="33.07" lengthAdjust="spacingAndGlyphs">0.75512</text>
<rect x="1151" y="121" width="41" height="11" fill="#ff0000"/>
<text x="1155" y="130" font-family="Liberation Sans, sans-serif" font-size="10" fill="#fff" stroke="#fff" stroke-width="0.12" textLength="33.07" lengthAdjust="spacingAndGlyphs">0.74002</text>
<rect x="1151" y="202" width="41" height="11" fill="#ff0000"/>
<text x="1155" y="211" font-family="Liberation Sans, sans-serif" font-size="10" fill="#fff" stroke="#fff" stroke-width="0.12" textLength="33.07" lengthAdjust="spacingAndGlyphs">0.72508</text>
<rect x="1151" y="243" width="41" height="11" fill="#000"/>
<text x="1155" y="252" font-family="Liberation Sans, sans-serif" font-size="10" fill="#fff" stroke="#fff" stroke-width="0.12" textLength="33.07" lengthAdjust="spacingAndGlyphs">0.71774</text>
<rect x="1151" y="284" width="41" height="11" fill="#00ff00"/>
<text x="1155" y="293" font-family="Liberation Sans, sans-serif" font-size="10" fill="#000" stroke="#000" stroke-width="0.12" textLength="33.07" lengthAdjust="spacingAndGlyphs">0.71013</text>
<rect x="1151" y="364" width="41" height="11" fill="#0000ff"/>
<text x="1155" y="373" font-family="Liberation Sans, sans-serif" font-size="10" fill="#fff" stroke="#fff" stroke-width="0.12" textLength="33.07" lengthAdjust="spacingAndGlyphs">0.69574</text>
<text x="7" y="388" font-family="Liberation Sans, sans-serif" font-size="10" fill="#000" stroke="#000" stroke-width="0.12" textLength="153.53" lengthAdjust="spacingAndGlyphs">MACD(12,26,9) -0.001501 -0.003027</text>
<rect x="2" y="401" width="3" height="12" fill="#c0c0c0"/>
<rect x="10" y="401" width="3" height="11" fill="#c0c0c0"/>
<rect x="18" y="401" width="3" height="9" fill="#c0c0c0"/>
<rect x="26" y="401" width="3" height="9" fill="#c0c0c0"/>
<rect x="34" y="401" width="3" height="8" fill="#c0c0c0"/>
<rect x="42" y="401" width="3" height="7" fill="#c0c0c0"/>
<rect x="50" y="401" width="3" height="5" fill="#c0c0c0"/>
<rect x="58" y="401" width="3" height="3" fill="#c0c0c0"/>
<rect x="66" y="401" width="3" height="3" fill="#c0c0c0"/>
<rect x="74" y="401" width="3" height="1" fill="#c0c0c0"/>
<rect x="82" y="401" width="3" height="1" fill="#c0c0c0"/>
<rect x="90" y="398" width="3" height="3" fill="#c0c0c0"/>
<rect x="98" y="394" width="3" height="7" fill="#c0c0c0"/>
<rect x="106" y="392" width="3" height="9" fill="#c0c0c0"/>
<rect x="114" y="390" width="3" height="11" fill="#c0c0c0"/>
<rect x="122" y="389" width="3" height="12" fill="#c0c0c0"/>
<rect x="130" y="386" width="3" height="15" fill="#c0c0c0"/>
<rect x="138" y="386" width="3" height="15" fill="#c0c0c0"/>
<rect x="146" y="386" width="3" height="15" fill="#c0c0c0"/>
<rect x="154" y="385" width="3" height="16" fill="#c0c0c0"/>
<rect x="162" y="382" width="3" height="19" fill="#c0c0c0"/>
<rect x="170" y="381" width="3" height="20" fill="#c0c0c0"/>
<rect x="178" y="380" width="3" height="21" fill="#c0c0c0"/>
<rect x="186" y="380" width="3" height="21" fill="#c0c0c0"/>
<rect x="194" y="380" width="3" height="21" fill="#c0c0c0"/>
<rect x="202" y="379" width="3" height="22" fill="#c0c0c0"/>
<rect x="210" y="380" width="3" height="21" fill="#c0c0c0"/>
<rect x="218" y="380" width="3" height="21" fill="#c0c0c0"/>
<rect x="226" y="383" width="3" height="18" fill="#c0c0c0"/>
<rect x="234" y="385" width="3" height="16" fill="#c0c0c0"/>
<rect x="242" y="389" width="3" height="12" fill="#c0c0c0"/>
<rect x="250" y="392" width="3" height="9" fill="#c0c0c0"/>
<rect x="258" y="395" width="3" height="6" fill="#c0c0c0"/>
<rect x="266" y="396" width="3" height="5" fill="#c0c0c0"/>
<rect x="274" y="399" width="3" height="2" fill="#c0c0c0"/>
<rect x="282" y="401" width="3" height="2" fill="#c0c0c0"/>
<rect x="290" y="401" width="3" height="6" fill="#c0c0c0"/>
<rect x="298" y="401" width="3" height="8" fill="#c0c0c0"/>
<rect x="306" y="401" width="3" height="9" fill="#c0c0c0"/>
<rect x="314" y="401" width="3" height="10" fill="#c0c0c0"/>
<rect x="322" y="401" width="3" height="11" fill="#c0c0c0"/>
<rect x="330" y="401" width="3" height="14" fill="#c0c0c0"/>
<rect x="338" y="401" width="3" height="15" fill="#c0c0c0"/>
<rect x="346" y="401" width="3" height="17" fill="#c0c0c0"/>
<rect x="354" y="401" width="3" height="19" fill="#c0c0c0"/>
<rect x="362" y="401" width="3" height="20" fill="#c0c0c0"/>
<rect x="370" y="401" width="3" height="21" fill="#c0c0c0"/>
<rect x="378" y="401" width="3" height="22" fill="#c0c0c0"/>
<rect x="386" y="401" width="3" height="24" fill="#c0c0c0"/>
<rect x="394" y="401" width="3" height="27" fill="#c0c0c0"/>
<rect x="402" y="401" width="3" height="28" fill="#c0c0c0"/>
<rect x="410" y="401" width="3" height="28" fill="#c0c0c0"/>
<rect x="418" y="401" width="3" height="29" fill="#c0c0c0"/>
<rect x="426" y="401" width="3" height="30" fill="#c0c0c0"/>
<rect x="434" y="401" width="3" height="31" fill="#c0c0c0"/>
<rect x="442" y="401" width="3" height="34" fill="#c0c0c0"/>
<rect x="450" y="401" width="3" height="36" fill="#c0c0c0"/>
<rect x="458" y="401" width="3" height="36" fill="#c0c0c0"/>
<rect x="466" y="401" width="3" height="33" fill="#c0c0c0"/>
<rect x="474" y="401" width="3" height="29" fill="#c0c0c0"/>
<rect x="482" y="401" width="3" height="26" fill="#c0c0c0"/>
<rect x="490" y="401" width="3" height="23" fill="#c0c0c0"/>
<rect x="498" y="401" width="3" height="20" fill="#c0c0c0"/>
<rect x="506" y="401" width="3" height="19" fill="#c0c0c0"/>
<rect x="514" y="401" width="3" height="18" fill="#c0c0c0"/>
<rect x="522" y="401" width="3" height="16" fill="#c0c0c0"/>
<rect x="530" y="401" width="3" height="14" fill="#c0c0c0"/>
<rect x="538" y="401" width="3" height="13" fill="#c0c0c0"/>
<rect x="546" y="401" width="3" height="13" fill="#c0c0c0"/>
<rect x="554" y="401" width="3" height="13" fill="#c0c0c0"/>
<rect x="562" y="401" width="3" height="12" fill="#c0c0c0"/>
<rect x="570" y="401" width="3" height="9" fill="#c0c0c0"/>
<rect x="578" y="401" width="3" height="5" fill="#c0c0c0"/>
<rect x="586" y="401" width="3" height="3" fill="#c0c0c0"/>
<rect x="594" y="401" width="3" height="1" fill="#c0c0c0"/>
<rect x="602" y="399" width="3" height="2" fill="#c0c0c0"/>
<rect x="610" y="398" width="3" height="3" fill="#c0c0c0"/>
<rect x="618" y="396" width="3" height="5" fill="#c0c0c0"/>
<rect x="626" y="395" width="3" height="6" fill="#c0c0c0"/>
<rect x="634" y="394" width="3" height="7" fill="#c0c0c0"/>
<rect x="642" y="393" width="3" height="8" fill="#c0c0c0"/>
<rect x="650" y="394" width="3" height="7" fill="#c0c0c0"/>
<rect x="658" y="394" width="3" height="7" fill="#c0c0c0"/>
<rect x="666" y="396" width="3" height="5" fill="#c0c0c0"/>
<rect x="674" y="398" width="3" height="3" fill="#c0c0c0"/>
<rect x="682" y="399" width="3" height="2" fill="#c0c0c0"/>
<rect x="690" y="401" width="3" height="1" fill="#c0c0c0"/>
<rect x="698" y="401" width="3" height="1" fill="#c0c0c0"/>
<rect x="706" y="401" width="3" height="1" fill="#c0c0c0"/>
<rect x="714" y="398" width="3" height="3" fill="#c0c0c0"/>
<rect x="722" y="396" width="3" height="5" fill="#c0c0c0"/>
<rect x="730" y="397" width="3" height="4" fill="#c0c0c0"/>
<rect x="738" y="398" width="3" height="3" fill="#c0c0c0"/>
<rect x="746" y="398" width="3" height="3" fill="#c0c0c0"/>
<rect x="754" y="400" width="3" height="1" fill="#c0c0c0"/>
<rect x="762" y="401" width="3" height="1" fill="#c0c0c0"/>
<rect x="770" y="401" width="3" height="1" fill="#c0c0c0"/>
<rect x="778" y="401" width="3" height="1" fill="#c0c0c0"/>
<rect x="786" y="401" width="3" height="2" fill="#c0c0c0"/>
<rect x="794" y="401" width="3" height="4" fill="#c0c0c0"/>
<rect x="802" y="401" width="3" height="5" fill="#c0c0c0"/>
<rect x="810" y="401" width="3" height="7" fill="#c0c0c0"/>
<rect x="818" y="401" width="3" height="11" fill="#c0c0c0"/>
<rect x="826" y="401" width="3" height="16" fill="#c0c0c0"/>
<rect x="834" y="401" width="3" height="19" fill="#c0c0c0"/>
<rect x="842" y="401" width="3" height="19" fill="#c0c0c0"/>
<rect x="850" y="401" width="3" height="17" fill="#c0c0c0"/>
<rect x="858" y="401" width="3" height="15" fill="#c0c0c0"/>
<rect x="866" y="401" width="3" height="14" fill="#c0c0c0"/>
<rect x="874" y="401" width="3" height="14" fill="#c0c0c0"/>
<rect x="882" y="401" width="3" height="14" fill="#c0c0c0"/>
<rect x="890" y="401" width="3" height="12" fill="#c0c0c0"/>
<rect x="898" y="401" width="3" height="10" fill="#c0c0c0"/>
<rect x="906" y="401" width="3" height="8" fill="#c0c0c0"/>
<path d="M455 431h8v1h-8zM487 431h6v1h-6zM393 420h6v1h-6zM533 420h4v1h-4zM3 411h36v1h-36zM349 411h4v1h-4zM581 411h4v1h-4zM853 411h4v1h-4zM191 382h8v1h-8zM239 382h8v1h-8zM175 384h8v1h-8zM253 384h4v1h-4zM113 398h6v1h-6zM303 398h3v1h-3zM639 398h8v1h-8zM711 398h40v1h-40zM365 415h4v1h-4zM557 415h4v1h-4zM871 415h16v1h-16zM895 415h8v1h-8zM421 425h4v1h-4zM513 425h4v1h-4zM119 397h8v1h-8zM301 397h2v1h-2zM647 397h8v1h-8zM703 397h8v1h-8zM389 419h4v1h-4zM537 419h4v1h-4zM161 386h6v1h-6zM261 386h4v1h-4zM136 393h2v1h-2zM285 393h4v1h-4zM79 405h6v1h-6zM325 405h4v1h-4zM609 405h4v1h-4zM825 405h4v1h-4zM63 408h6v1h-6zM337 408h4v1h-4zM597 408h4v1h-4zM837 408h4v1h-4zM167 385h8v1h-8zM257 385h4v1h-4zM441 429h6v1h-6zM497 429h4v1h-4zM369 416h6v1h-6zM551 416h6v1h-6zM887 416h8v1h-8zM463 432h24v1h-24zM405 422h4v1h-4zM525 422h4v1h-4zM383 418h6v1h-6zM541 418h4v1h-4zM109 399h4v1h-4zM306 399h3v1h-3zM633 399h6v1h-6zM751 399h46v1h-46zM97 401h6v1h-6zM311 401h3v1h-3zM625 401h4v1h-4zM801 401h6v1h-6zM183 383h8v1h-8zM247 383h6v1h-6zM69 407h4v1h-4zM333 407h4v1h-4zM601 407h4v1h-4zM833 407h4v1h-4zM431 427h6v1h-6zM505 427h4v1h-4zM199 381h40v1h-40zM361 414h4v1h-4zM561 414h6v1h-6zM865 414h6v1h-6zM903 414h5v1h-5zM375 417h8v1h-8zM545 417h6v1h-6zM39 410h16v1h-16zM345 410h4v1h-4zM585 410h6v1h-6zM847 410h6v1h-6zM353 412h4v1h-4zM575 412h6v1h-6zM857 412h4v1h-4zM93 402h4v1h-4zM314 402h3v1h-3zM621 402h4v1h-4zM807 402h8v1h-8zM85 404h4v1h-4zM321 404h4v1h-4zM613 404h4v1h-4zM821 404h4v1h-4zM447 430h8v1h-8zM493 430h4v1h-4zM415 424h6v1h-6zM517 424h4v1h-4zM127 396h5v1h-5zM297 396h4v1h-4zM655 396h8v1h-8zM695 396h8v1h-8zM89 403h4v1h-4zM317 403h4v1h-4zM617 403h4v1h-4zM815 403h6v1h-6zM399 421h6v1h-6zM529 421h4v1h-4zM149 389h4v1h-4zM271 389h3v1h-3zM132 395h2v1h-2zM293 395h4v1h-4zM663 395h32v1h-32zM138 392h3v1h-3zM281 392h4v1h-4zM55 409h8v1h-8zM341 409h4v1h-4zM591 409h6v1h-6zM841 409h6v1h-6zM409 423h6v1h-6zM521 423h4v1h-4zM357 413h4v1h-4zM567 413h8v1h-8zM861 413h4v1h-4zM425 426h6v1h-6zM509 426h4v1h-4zM103 400h6v1h-6zM309 400h2v1h-2zM629 400h4v1h-4zM797 400h4v1h-4zM157 387h4v1h-4zM265 387h4v1h-4zM437 428h4v1h-4zM501 428h4v1h-4zM145 390h4v1h-4zM274 390h3v1h-3zM153 388h4v1h-4zM269 388h2v1h-2zM134 394h2v1h-2zM289 394h4v1h-4zM73 406h6v1h-6zM329 406h4v1h-4zM605 406h4v1h-4zM829 406h4v1h-4zM141 391h4v1h-4zM277 391h4v1h-4z" fill="#ff0000"/>
<text x="1153" y="386" font-family="Liberation Sans, sans-serif" font-size="10" fill="#000" stroke="#000" stroke-width="0.12" textLength="38.37" lengthAdjust="spacingAndGlyphs">0.006201</text>
<text x="1153" y="405" font-family="Liberation Sans, sans-serif" font-size="10" fill="#000" stroke="#000" stroke-width="0.12" textLength="17.90" lengthAdjust="spacingAndGlyphs">0.00</text>
<text x="1153" y="436" font-family="Liberation Sans, sans-serif" font-size="10" fill="#000" stroke="#000" stroke-width="0.12" textLength="41.43" lengthAdjust="spacingAndGlyphs">-0.009197</text>
<rect x="1150" y="401" width="1" height="1" fill="#000"/><rect x="1150" y="377" width="1" height="1" fill="#000"/><rect x="1150" y="438" width="1" height="1" fill="#000"/>
<text x="7" y="454" font-family="Liberation Sans, sans-serif" font-size="10" fill="#000" stroke="#000" stroke-width="0.12" textLength="67.87" lengthAdjust="spacingAndGlyphs">RSI(14) 54.5131</text>
<line x1="3" y1="462.5" x2="1149" y2="462.5" stroke="#c0c0c0" stroke-dasharray="3,3"/>
<line x1="3" y1="487.5" x2="1149" y2="487.5" stroke="#c0c0c0" stroke-dasharray="3,3"/>
<path d="M47 473h3v1h-3zM61 473h4v1h-4zM68 473h2v1h-2zM226 473h1v1h-1zM229 473h2v1h-2zM238 473h1v1h-1zM568 473h2v1h-2zM650 473h1v1h-1zM653 473h4v1h-4zM661 473h4v1h-4zM708 473h1v1h-1zM729 473h1v1h-1zM901 473h4v1h-4zM15 475h8v1h-8zM39 475h6v1h-6zM241 475h2v1h-2zM523 475h10v1h-10zM564 475h2v1h-2zM669 475h2v1h-2zM703 475h3v1h-3zM731 475h4v1h-4zM743 475h6v1h-6zM759 475h3v1h-3zM772 475h2v1h-2zM863 475h5v1h-5zM890 475h5v1h-5zM93 466h4v1h-4zM121 466h3v1h-3zM147 466h12v1h-12zM221 466h1v1h-1zM50 472h11v1h-11zM70 472h1v1h-1zM225 472h1v1h-1zM231 472h3v1h-3zM236 472h2v1h-2zM570 472h3v1h-3zM649 472h1v1h-1zM657 472h4v1h-4zM709 472h2v1h-2zM727 472h2v1h-2zM905 472h3v1h-3zM3 479h2v1h-2zM274 479h3v1h-3zM311 479h6v1h-6zM468 479h2v1h-2zM506 479h3v1h-3zM517 479h2v1h-2zM543 479h14v1h-14zM794 479h11v1h-11zM847 479h1v1h-1zM874 479h10v1h-10zM7 477h3v1h-3zM247 477h8v1h-8zM261 477h4v1h-4zM269 477h2v1h-2zM472 477h2v1h-2zM477 477h4v1h-4zM485 477h4v1h-4zM501 477h2v1h-2zM520 477h1v1h-1zM535 477h3v1h-3zM559 477h3v1h-3zM674 477h5v1h-5zM687 477h14v1h-14zM753 477h4v1h-4zM776 477h2v1h-2zM781 477h4v1h-4zM789 477h2v1h-2zM849 477h2v1h-2zM870 477h2v1h-2zM886 477h2v1h-2zM73 470h2v1h-2zM77 470h4v1h-4zM84 470h2v1h-2zM224 470h1v1h-1zM577 470h22v1h-22zM607 470h6v1h-6zM646 470h1v1h-1zM712 470h1v1h-1zM725 470h1v1h-1zM111 464h6v1h-6zM126 464h2v1h-2zM144 464h1v1h-1zM167 464h8v1h-8zM183 464h6v1h-6zM207 464h13v1h-13zM10 476h5v1h-5zM243 476h4v1h-4zM265 476h4v1h-4zM474 476h3v1h-3zM489 476h12v1h-12zM521 476h2v1h-2zM533 476h2v1h-2zM562 476h2v1h-2zM671 476h3v1h-3zM679 476h8v1h-8zM701 476h2v1h-2zM749 476h4v1h-4zM757 476h2v1h-2zM774 476h2v1h-2zM785 476h4v1h-4zM851 476h12v1h-12zM868 476h2v1h-2zM888 476h2v1h-2zM5 478h2v1h-2zM255 478h6v1h-6zM271 478h3v1h-3zM470 478h2v1h-2zM481 478h4v1h-4zM503 478h3v1h-3zM519 478h1v1h-1zM538 478h5v1h-5zM557 478h2v1h-2zM778 478h3v1h-3zM791 478h3v1h-3zM848 478h1v1h-1zM872 478h2v1h-2zM884 478h2v1h-2zM277 480h2v1h-2zM303 480h8v1h-8zM317 480h2v1h-2zM467 480h1v1h-1zM509 480h4v1h-4zM516 480h1v1h-1zM805 480h2v1h-2zM845 480h2v1h-2zM23 474h16v1h-16zM45 474h2v1h-2zM65 474h3v1h-3zM227 474h2v1h-2zM239 474h2v1h-2zM566 474h2v1h-2zM651 474h2v1h-2zM665 474h4v1h-4zM706 474h2v1h-2zM730 474h1v1h-1zM735 474h8v1h-8zM762 474h10v1h-10zM895 474h6v1h-6zM285 483h2v1h-2zM294 483h2v1h-2zM325 483h4v1h-4zM335 483h6v1h-6zM464 483h1v1h-1zM812 483h2v1h-2zM841 483h2v1h-2zM346 486h21v1h-21zM461 486h1v1h-1zM817 486h2v1h-2zM837 486h2v1h-2zM75 469h2v1h-2zM86 469h2v1h-2zM223 469h1v1h-1zM599 469h8v1h-8zM613 469h4v1h-4zM623 469h6v1h-6zM645 469h1v1h-1zM713 469h2v1h-2zM724 469h1v1h-1zM88 468h2v1h-2zM222 468h1v1h-1zM617 468h6v1h-6zM629 468h4v1h-4zM644 468h1v1h-1zM715 468h9v1h-9zM385 490h4v1h-4zM399 490h3v1h-3zM423 490h8v1h-8zM454 490h2v1h-2zM279 481h3v1h-3zM298 481h5v1h-5zM319 481h3v1h-3zM466 481h1v1h-1zM513 481h3v1h-3zM807 481h3v1h-3zM844 481h1v1h-1zM287 484h3v1h-3zM292 484h2v1h-2zM329 484h6v1h-6zM341 484h2v1h-2zM463 484h1v1h-1zM814 484h1v1h-1zM840 484h1v1h-1zM381 489h4v1h-4zM402 489h5v1h-5zM415 489h8v1h-8zM456 489h2v1h-2zM825 489h6v1h-6zM290 485h2v1h-2zM343 485h3v1h-3zM462 485h1v1h-1zM815 485h2v1h-2zM839 485h1v1h-1zM97 465h14v1h-14zM117 465h4v1h-4zM124 465h2v1h-2zM145 465h2v1h-2zM159 465h8v1h-8zM220 465h1v1h-1zM128 463h2v1h-2zM143 463h1v1h-1zM175 463h8v1h-8zM189 463h4v1h-4zM199 463h8v1h-8zM71 471h2v1h-2zM81 471h3v1h-3zM225 471h1v1h-1zM234 471h2v1h-2zM573 471h4v1h-4zM647 471h2v1h-2zM711 471h1v1h-1zM726 471h1v1h-1zM90 467h3v1h-3zM221 467h1v1h-1zM633 467h11v1h-11zM367 487h8v1h-8zM460 487h1v1h-1zM819 487h2v1h-2zM836 487h1v1h-1zM375 488h6v1h-6zM407 488h8v1h-8zM458 488h2v1h-2zM821 488h4v1h-4zM831 488h5v1h-5zM133 461h4v1h-4zM140 461h1v1h-1zM439 493h3v1h-3zM445 493h4v1h-4zM393 492h4v1h-4zM437 492h2v1h-2zM449 492h3v1h-3zM282 482h3v1h-3zM296 482h2v1h-2zM322 482h3v1h-3zM465 482h1v1h-1zM810 482h2v1h-2zM843 482h1v1h-1zM389 491h4v1h-4zM397 491h2v1h-2zM431 491h6v1h-6zM452 491h2v1h-2zM130 462h3v1h-3zM141 462h2v1h-2zM193 462h6v1h-6zM137 460h3v1h-3zM442 494h3v1h-3z" fill="#1e90ff"/>
<text x="1152.5" y="452" font-family="Liberation Sans, sans-serif" font-size="10" fill="#000" stroke="#000" stroke-width="0.12" textLength="15.35" lengthAdjust="spacingAndGlyphs">100</text>
<text x="1152.5" y="466" font-family="Liberation Sans, sans-serif" font-size="10" fill="#000" stroke="#000" stroke-width="0.12" textLength="10.23" lengthAdjust="spacingAndGlyphs">70</text>
<text x="1152.5" y="491" font-family="Liberation Sans, sans-serif" font-size="10" fill="#000" stroke="#000" stroke-width="0.12" textLength="10.23" lengthAdjust="spacingAndGlyphs">30</text>
<text x="1152.5" y="505" font-family="Liberation Sans, sans-serif" font-size="10" fill="#000" stroke="#000" stroke-width="0.12" textLength="5.12" lengthAdjust="spacingAndGlyphs">0</text>
<rect x="1150" y="443" width="1" height="1" fill="#000"/>
<rect x="3" y="508" width="1" height="3" fill="#000"/>
<text x="2" y="520" font-family="Liberation Sans, sans-serif" font-size="10" fill="#000" stroke="#000" stroke-width="0.12" textLength="52.46" lengthAdjust="spacingAndGlyphs">30 Sep 2021</text>
<rect x="67" y="508" width="1" height="3" fill="#000"/>
<text x="66" y="520" font-family="Liberation Sans, sans-serif" font-size="10" fill="#000" stroke="#000" stroke-width="0.12" textLength="50.39" lengthAdjust="spacingAndGlyphs">10 Oct 2021</text>
<rect x="131" y="508" width="1" height="3" fill="#000"/>
<text x="130" y="520" font-family="Liberation Sans, sans-serif" font-size="10" fill="#000" stroke="#000" stroke-width="0.12" textLength="50.39" lengthAdjust="spacingAndGlyphs">19 Oct 2021</text>
<rect x="195" y="508" width="1" height="3" fill="#000"/>
<text x="194" y="520" font-family="Liberation Sans, sans-serif" font-size="10" fill="#000" stroke="#000" stroke-width="0.12" textLength="50.39" lengthAdjust="spacingAndGlyphs">28 Oct 2021</text>
<rect x="259" y="508" width="1" height="3" fill="#000"/>
<text x="258" y="520" font-family="Liberation Sans, sans-serif" font-size="10" fill="#000" stroke="#000" stroke-width="0.12" textLength="47.31" lengthAdjust="spacingAndGlyphs">7 Nov 2021</text>
<rect x="323" y="508" width="1" height="3" fill="#000"/>
<text x="322" y="520" font-family="Liberation Sans, sans-serif" font-size="10" fill="#000" stroke="#000" stroke-width="0.12" textLength="52.45" lengthAdjust="spacingAndGlyphs">16 Nov 2021</text>
<rect x="387" y="508" width="1" height="3" fill="#000"/>
<text x="386" y="520" font-family="Liberation Sans, sans-serif" font-size="10" fill="#000" stroke="#000" stroke-width="0.12" textLength="52.45" lengthAdjust="spacingAndGlyphs">25 Nov 2021</text>
<rect x="451" y="508" width="1" height="3" fill="#000"/>
<text x="450" y="520" font-family="Liberation Sans, sans-serif" font-size="10" fill="#000" stroke="#000" stroke-width="0.12" textLength="47.31" lengthAdjust="spacingAndGlyphs">5 Dec 2021</text>
<rect x="515" y="508" width="1" height="3" fill="#000"/>
<text x="514" y="520" font-family="Liberation Sans, sans-serif" font-size="10" fill="#000" stroke="#000" stroke-width="0.12" textLength="52.45" lengthAdjust="spacingAndGlyphs">14 Dec 2021</text>
<rect x="579" y="508" width="1" height="3" fill="#000"/>
<text x="578" y="520" font-family="Liberation Sans, sans-serif" font-size="10" fill="#000" stroke="#000" stroke-width="0.12" textLength="52.45" lengthAdjust="spacingAndGlyphs">23 Dec 2021</text>
<rect x="643" y="508" width="1" height="3" fill="#000"/>
<text x="642" y="520" font-family="Liberation Sans, sans-serif" font-size="10" fill="#000" stroke="#000" stroke-width="0.12" textLength="45.77" lengthAdjust="spacingAndGlyphs">2 Jan 2022</text>
<rect x="707" y="508" width="1" height="3" fill="#000"/>
<text x="706" y="520" font-family="Liberation Sans, sans-serif" font-size="10" fill="#000" stroke="#000" stroke-width="0.12" textLength="50.23" lengthAdjust="spacingAndGlyphs">11 Jan 2022</text>
<rect x="771" y="508" width="1" height="3" fill="#000"/>
<text x="770" y="520" font-family="Liberation Sans, sans-serif" font-size="10" fill="#000" stroke="#000" stroke-width="0.12" textLength="50.92" lengthAdjust="spacingAndGlyphs">20 Jan 2022</text>
<rect x="835" y="508" width="1" height="3" fill="#000"/>
<text x="834" y="520" font-family="Liberation Sans, sans-serif" font-size="10" fill="#000" stroke="#000" stroke-width="0.12" textLength="50.92" lengthAdjust="spacingAndGlyphs">30 Jan 2022</text>
<rect x="899" y="508" width="1" height="3" fill="#000"/>
<text x="898" y="520" font-family="Liberation Sans, sans-serif" font-size="10" fill="#000" stroke="#000" stroke-width="0.12" textLength="46.80" lengthAdjust="spacingAndGlyphs">8 Feb 2022</text>
<rect x="0" y="528" width="1192" height="1" fill="#d8d8d8"/>
<rect x="0" y="530" width="1192" height="21" fill="#f0f0f0"/>
<rect x="0" y="530" width="213" height="1" fill="#000"/>
<rect x="320" y="530" width="872" height="1" fill="#000"/>
<rect x="213" y="529" width="107" height="19" fill="#fff"/>
<rect x="212" y="530" width="1" height="19" fill="#000"/>
<rect x="319" y="530" width="1" height="19" fill="#000"/>
<rect x="212" y="548" width="108" height="1" fill="#000"/>
<text x="15.5" y="545" font-family="Liberation Sans, sans-serif" font-size="12.3" fill="#7f7f7f" textLength="77.5" lengthAdjust="spacingAndGlyphs">USDX,Weekly</text>
<rect x="104" y="533" width="1" height="14" fill="#5a5a5a"/>
<text x="116" y="545" font-family="Liberation Sans, sans-serif" font-size="12.3" fill="#7f7f7f" textLength="85" lengthAdjust="spacingAndGlyphs">EURUSD-,Daily</text>
<text x="332" y="545" font-family="Liberation Sans, sans-serif" font-size="12.3" fill="#7f7f7f" textLength="84" lengthAdjust="spacingAndGlyphs">USDCHF-,Daily</text>
<rect x="428" y="533" width="1" height="14" fill="#5a5a5a"/>
<text x="439.5" y="545" font-family="Liberation Sans, sans-serif" font-size="12.3" fill="#7f7f7f" textLength="85.5" lengthAdjust="spacingAndGlyphs">USDCAD-,Daily</text>
<rect x="536" y="533" width="1" height="14" fill="#5a5a5a"/>
<text x="548.5" y="545" font-family="Liberation Sans, sans-serif" font-size="12.3" fill="#7f7f7f" textLength="87" lengthAdjust="spacingAndGlyphs">USDCNH-,Daily</text>
<rect x="648" y="533" width="1" height="14" fill="#5a5a5a"/>
<text x="659" y="545" font-family="Liberation Sans, sans-serif" font-size="12.3" fill="#7f7f7f" textLength="73.5" lengthAdjust="spacingAndGlyphs">XAUUSD-,H1</text>
<rect x="745" y="533" width="1" height="14" fill="#5a5a5a"/>
<text x="754.5" y="545" font-family="Liberation Sans, sans-serif" font-size="12.3" fill="#7f7f7f" textLength="66" lengthAdjust="spacingAndGlyphs">UKOil-,M15</text>
<rect x="832" y="533" width="1" height="14" fill="#5a5a5a"/>
<text x="843.5" y="545" font-family="Liberation Sans, sans-serif" font-size="12.3" fill="#7f7f7f" textLength="61" lengthAdjust="spacingAndGlyphs">DJ30-,M30</text>
<rect x="916" y="533" width="1" height="14" fill="#5a5a5a"/>
<text x="927" y="545" font-family="Liberation Sans, sans-serif" font-size="12.3" fill="#7f7f7f" textLength="62" lengthAdjust="spacingAndGlyphs">UK100-,H1</text>
<rect x="1000" y="533" width="1" height="14" fill="#5a5a5a"/>
<text x="222" y="545" font-family="Liberation Sans, sans-serif" font-size="12.3" fill="#000" textLength="87" lengthAdjust="spacingAndGlyphs">AUDUSD-,Daily</text>
<path d="M1169 535 L1165 539 L1169 543 Z" fill="#a0a0a0"/><path d="M1183 535 L1187 539 L1183 543 Z" fill="#a0a0a0"/>
<rect x="4" y="42" width="223" height="59" fill="#fff"/>
<rect x="3" y="43" width="1" height="1" fill="#ff0000"/>
<rect x="6" y="43" width="52" height="25" fill="#0000a8"/>
<rect x="6" y="67" width="109" height="33" fill="#0000a8"/>
<rect x="7" y="68" width="107" height="31" fill="url(#gpr)"/>
<rect x="7" y="44" width="50" height="24" fill="url(#gtab)"/>
<rect x="10" y="67" width="44" height="1" fill="#8c8cff"/>
<rect x="173" y="43" width="52" height="25" fill="#0000a8"/>
<rect x="117" y="67" width="108" height="33" fill="#0000a8"/>
<rect x="118" y="68" width="106" height="31" fill="url(#gpr)"/>
<rect x="174" y="44" width="50" height="24" fill="url(#gtab)"/>
<rect x="177" y="67" width="44" height="1" fill="#8c8cff"/>
<rect x="60" y="43" width="111" height="22" fill="#a8a8a8"/>
<rect x="61" y="44" width="109" height="20" fill="#fff"/>
<rect x="62" y="45" width="19" height="6" fill="#ededed"/>
<rect x="62" y="51" width="19" height="12" fill="#d9d9d9"/>
<rect x="150" y="45" width="19" height="6" fill="#ededed"/>
<rect x="150" y="51" width="19" height="12" fill="#d9d9d9"/>
<rect x="81" y="43" width="1" height="22" fill="#a8a8a8"/>
<rect x="149" y="43" width="1" height="22" fill="#a8a8a8"/>
<path d="M67.5 52 L73.5 52 L70.5 55 Z" fill="#5868c0" shape-rendering="auto"/>
<path d="M156.5 55 L162.5 55 L159.5 52 Z" fill="#5868c0" shape-rendering="auto"/>
<text x="122" y="58" font-family="Liberation Sans, sans-serif" font-size="12.3" fill="#000" textLength="24" lengthAdjust="spacingAndGlyphs">3.00</text>
<text x="17.5" y="59" font-family="Liberation Sans, sans-serif" font-size="12" fill="#fff" textLength="26" lengthAdjust="spacingAndGlyphs">SELL</text>
<text x="186" y="59" font-family="Liberation Sans, sans-serif" font-size="12" fill="#fff" textLength="24" lengthAdjust="spacingAndGlyphs">BUY</text>
<text x="25.5" y="95" font-family="Liberation Sans, sans-serif" font-size="12.5" font-weight="bold" fill="#fff" textLength="24.5" lengthAdjust="spacingAndGlyphs">0.71</text>
<text x="52.5" y="95" font-family="Liberation Sans, sans-serif" font-size="34.5" fill="#fff" textLength="37" lengthAdjust="spacingAndGlyphs">77</text>
<text x="92.5" y="79.5" font-family="Liberation Sans, sans-serif" font-size="11.5" font-weight="bold" fill="#fff">4</text>
<text x="135.5" y="95" font-family="Liberation Sans, sans-serif" font-size="12.5" font-weight="bold" fill="#fff" textLength="24.5" lengthAdjust="spacingAndGlyphs">0.71</text>
<text x="164" y="95" font-family="Liberation Sans, sans-serif" font-size="34.5" fill="#fff" textLength="36" lengthAdjust="spacingAndGlyphs">79</text>
<text x="203.5" y="79.5" font-family="Liberation Sans, sans-serif" font-size="11.5" font-weight="bold" fill="#fff">4</text>
</svg></body></html>
